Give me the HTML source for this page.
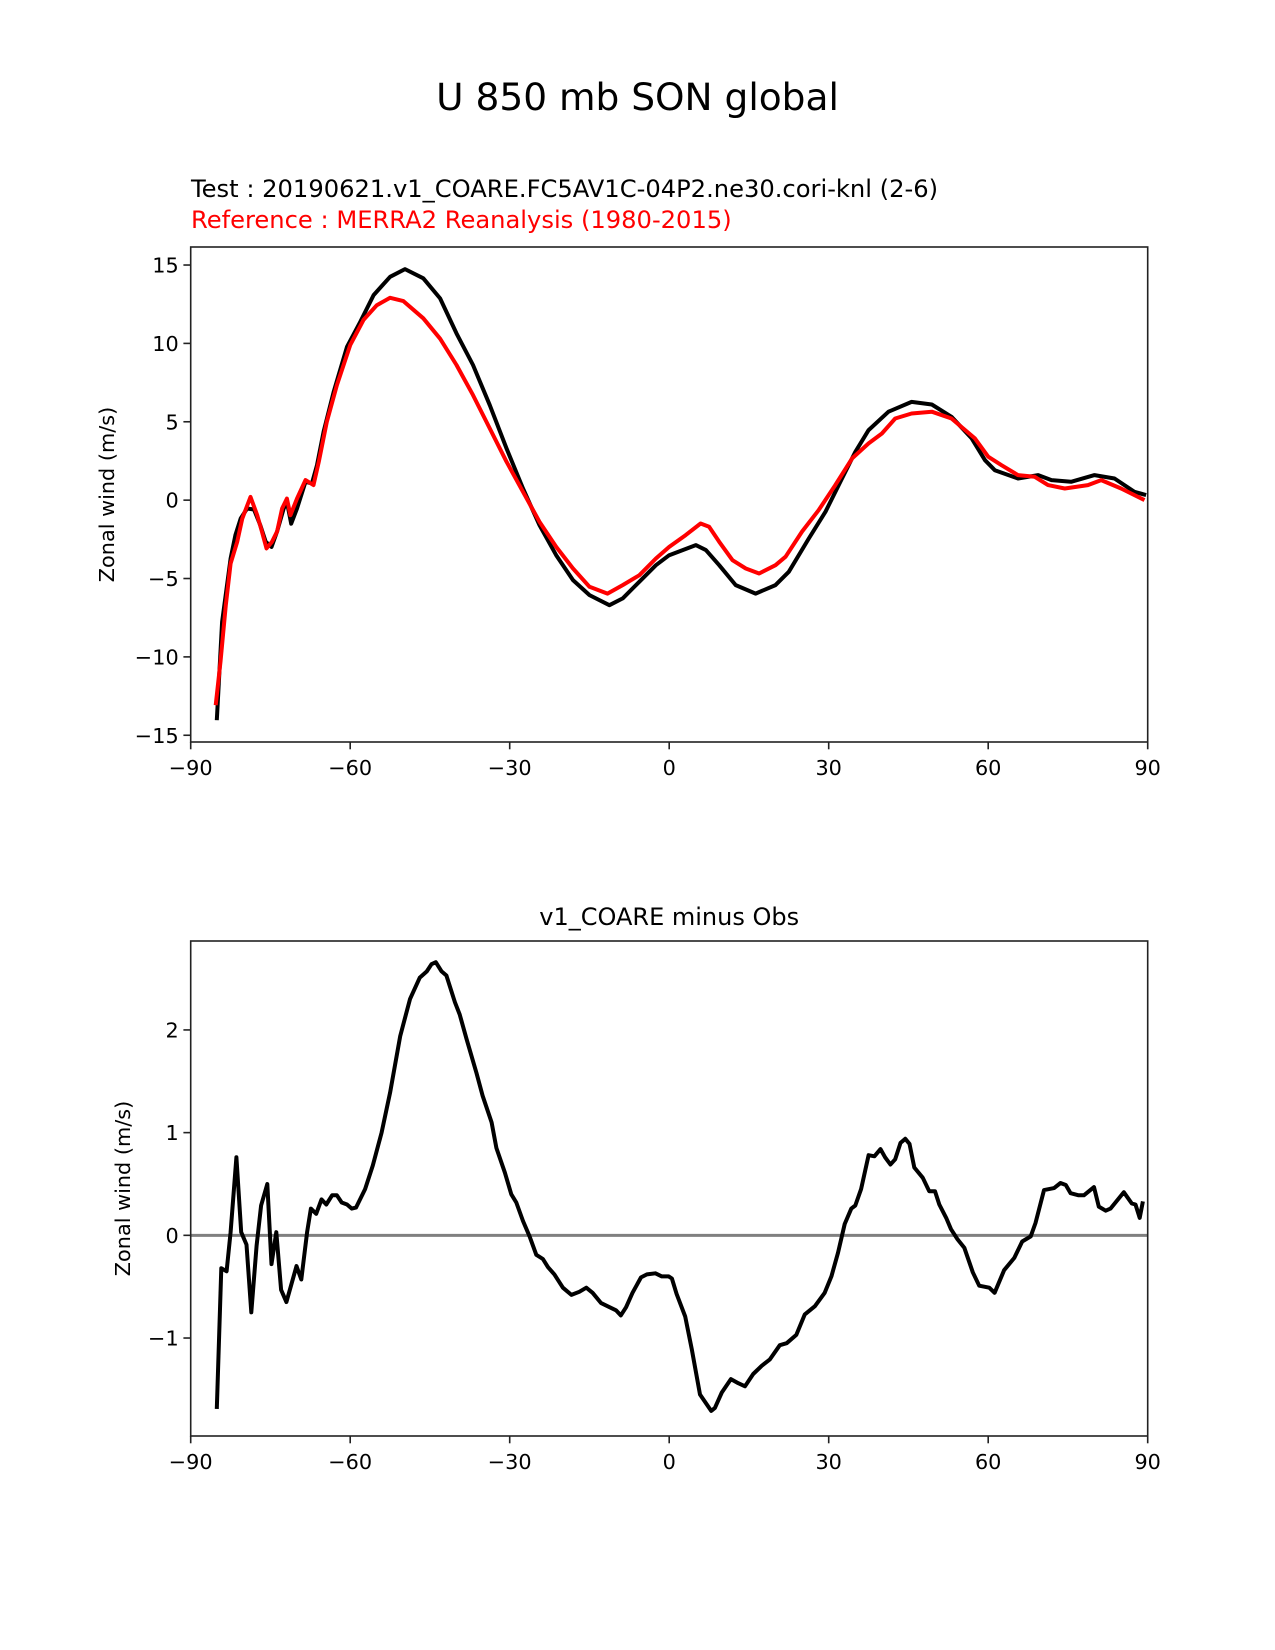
<!DOCTYPE html>
<html>
<head>
<meta charset="utf-8">
<style>
  html, body { margin: 0; padding: 0; background: #fff; }
  svg { display: block; font-family: "DejaVu Sans", "Liberation Sans", sans-serif; }
</style>
</head>
<body>
<svg id="fig" width="1275" height="1650" viewBox="0 0 1275 1650" xmlns="http://www.w3.org/2000/svg">
  <rect width="1275" height="1650" fill="#fff"/>
  <text x="637.5" y="110" font-size="37.5" text-anchor="middle" fill="#000">U 850 mb SON global</text>
  <text x="191" y="197" font-size="24.2" fill="#000">Test : 20190621.v1_COARE.FC5AV1C-04P2.ne30.cori-knl (2-6)</text>
  <text x="191" y="228" font-size="24.2" fill="#ff0000">Reference : MERRA2 Reanalysis (1980-2015)</text>
  <text x="669.2" y="925" font-size="24" text-anchor="middle" fill="#000">v1_COARE minus Obs</text>
  <defs>
    <clipPath id="clipTop"><rect x="190.7" y="247" width="957" height="495"/></clipPath>
    <clipPath id="clipBot"><rect x="190.7" y="941" width="957" height="495"/></clipPath>
  </defs>
  <g id="top"></g>
  <g id="bot"></g>
</svg>
<script>
// ---- data (latitude, value) ----
const testLat = [-85.1,-84.1,-82.5,-81.6,-80.6,-79.4,-78.1,-76.9,-75.9,-74.8,-73.75,-72.5,-71.9,-71.1,-70,-68.4,-67.2,-66.25,-65,-63.1,-60.6,-58.1,-55.6,-52.5,-49.7,-46.25,-43.1,-40,-36.9,-33.75,-30.6,-27.5,-24.4,-21.25,-18.1,-15,-11.25,-8.75,-5.6,-2.5,0,5,6.9,9.4,12.5,16.25,20,22.5,26.25,29.4,32.5,35,37.5,41.25,45.6,49.4,53.1,56.9,59.4,61.25,65.6,69.4,71.9,75.6,80,83.75,87.5,89.7];
const testVal = [-14.04,-7.77,-3.72,-2.23,-1.17,-0.53,-0.6,-1.6,-2.66,-2.98,-2.0,-0.53,-0.1,-1.5,-0.53,1.17,1.06,2.23,4.36,6.91,9.78,11.38,13.08,14.25,14.74,14.15,12.87,10.64,8.62,6.06,3.3,0.74,-1.6,-3.51,-5.1,-6.06,-6.7,-6.27,-5.2,-4.15,-3.51,-2.87,-3.19,-4.15,-5.42,-5.96,-5.42,-4.57,-2.45,-0.74,1.38,3.08,4.47,5.64,6.27,6.1,5.32,3.94,2.55,1.91,1.38,1.6,1.28,1.17,1.6,1.38,0.53,0.32];
const refLat = [-85.3,-84.4,-83.4,-82.5,-81.25,-80.3,-78.75,-77.5,-76.6,-75.75,-74.7,-73.75,-72.8,-71.9,-71.25,-70,-68.4,-66.9,-65.9,-64.4,-62.5,-60,-57.5,-55,-52.5,-50,-46.25,-43.1,-40,-36.9,-33.75,-30.6,-27.5,-24.4,-21.25,-18.1,-15,-11.6,-8.75,-5.6,-2.5,0,3.1,5.9,7.5,9.4,11.9,14.4,16.9,20,21.9,25,28.1,31.25,34.4,37.5,40,42.5,45.6,49.4,53.1,57.5,60,62.5,65.6,68.75,71.25,74.4,78.75,81.25,85,89.4];
const refVal = [-13.08,-10.3,-6.7,-4.04,-2.66,-1.17,0.21,-0.96,-2.0,-3.08,-2.66,-2.0,-0.53,0.1,-0.96,0.1,1.28,0.96,2.45,5.0,7.34,9.89,11.5,12.44,12.91,12.7,11.6,10.3,8.62,6.7,4.57,2.45,0.53,-1.38,-2.98,-4.36,-5.53,-5.96,-5.42,-4.79,-3.72,-2.98,-2.23,-1.49,-1.7,-2.66,-3.83,-4.36,-4.68,-4.15,-3.61,-2.0,-0.64,0.96,2.66,3.62,4.25,5.21,5.53,5.64,5.21,3.94,2.77,2.23,1.6,1.49,0.96,0.74,0.96,1.28,0.74,0.0];
const diffLat = [-85.1,-84.25,-83.25,-82.5,-81.4,-80.5,-79.5,-78.6,-77.6,-76.75,-75.6,-74.8,-73.9,-73,-72,-70.1,-69.2,-68.1,-67.4,-66.4,-65.4,-64.5,-63.4,-62.5,-61.6,-60.6,-59.7,-58.9,-57.2,-55.75,-54.1,-52.5,-50.6,-48.75,-46.9,-45.6,-44.7,-43.9,-42.8,-41.9,-40.3,-39.4,-38.1,-36.25,-35.1,-33.4,-32.5,-30.9,-29.7,-28.75,-27.5,-26.25,-25,-23.75,-22.8,-21.6,-20,-18.4,-16.9,-15.6,-14.4,-12.8,-11.6,-10,-9.1,-8.1,-6.9,-5.3,-4.2,-2.6,-1.4,-0.1,0.5,1.4,3,4.25,5.8,7.9,8.6,9.9,11.6,13,14.25,15.8,17.4,18.9,20.8,22.1,23.9,25.5,27.4,29.25,30.5,31.75,33,34.25,35,36.1,37.5,38.6,39.75,40.6,41.6,42.5,43.5,44.4,45.2,46.1,47.7,48.9,50,50.8,52.1,53,54.25,55.5,57.1,58.3,60.2,61.2,63,64.9,66.4,68,68.9,70.5,72.4,73.6,74.6,75.5,77,78,79.9,80.8,82.1,83,85.5,87,87.7,88.5,89.1];
const diffVal = [-1.69,-0.32,-0.35,0.03,0.76,0.03,-0.09,-0.75,-0.10,0.29,0.50,-0.28,0.03,-0.53,-0.65,-0.30,-0.43,0.03,0.26,0.21,0.35,0.30,0.39,0.39,0.32,0.30,0.26,0.27,0.45,0.68,1.0,1.39,1.94,2.30,2.51,2.57,2.64,2.66,2.57,2.53,2.27,2.15,1.91,1.58,1.36,1.10,0.85,0.61,0.40,0.32,0.14,-0.01,-0.19,-0.23,-0.31,-0.38,-0.51,-0.58,-0.55,-0.51,-0.56,-0.66,-0.69,-0.73,-0.78,-0.70,-0.56,-0.41,-0.38,-0.37,-0.40,-0.40,-0.42,-0.57,-0.79,-1.11,-1.55,-1.71,-1.68,-1.53,-1.40,-1.44,-1.47,-1.35,-1.27,-1.21,-1.07,-1.05,-0.97,-0.77,-0.69,-0.56,-0.40,-0.17,0.11,0.26,0.29,0.45,0.78,0.77,0.84,0.76,0.69,0.74,0.90,0.94,0.89,0.66,0.56,0.43,0.43,0.30,0.17,0.06,-0.04,-0.12,-0.36,-0.49,-0.51,-0.56,-0.34,-0.22,-0.06,-0.01,0.12,0.44,0.46,0.51,0.49,0.41,0.39,0.39,0.47,0.28,0.24,0.26,0.42,0.31,0.30,0.17,0.33];
const xTicks = [-90,-60,-30,0,30,60,90];
const topYTicks = [-15,-10,-5,0,5,10,15];
const botYTicks = [-1,0,1,2];

const NS = "http://www.w3.org/2000/svg";
const X0 = 190.7, X1 = 1147.7;
function xs(lat){ return X0 + (lat + 90) / 180 * (X1 - X0); }
function mk(tag, attrs, parent){ const e = document.createElementNS(NS, tag); for (const k in attrs) e.setAttribute(k, attrs[k]); parent.appendChild(e); return e; }
function fmt(v){ return v < 0 ? "\u2212" + Math.abs(v) : String(v); }

function panel(g, top, bottom, ymin, ymax, yticks, clipId, ylabelX){
  const ys = v => bottom - (v - ymin) / (ymax - ymin) * (bottom - top);
  xTicks.forEach(t => {
    const x = xs(t);
    const tk = mk("line", {x1:x, x2:x, y1:bottom, y2:bottom+7.3, stroke:"#222", "stroke-width":1.6}, g);
    
    
    const lb = mk("text", {x:x, y:bottom+33, "font-size":20.8, "text-anchor":"middle", fill:"#000"}, g);
    lb.textContent = fmt(t);
    
    
  });
  yticks.forEach(t => {
    const y = ys(t);
    const tk = mk("line", {x1:X0-7.3, x2:X0, y1:y, y2:y, stroke:"#222", "stroke-width":1.6}, g);
    
    
    const lb = mk("text", {x:X0-12, y:y+7.5, "font-size":20.8, "text-anchor":"end", fill:"#000"}, g);
    lb.textContent = fmt(t);
    
    
  });
  const cy = (top + bottom) / 2;
  const yl = mk("text", {x:ylabelX, y:cy, "font-size":20.8, "text-anchor":"middle", fill:"#000", transform:"rotate(-90 " + ylabelX + " " + cy + ")"}, g);
  yl.textContent = "Zonal wind (m/s)";
  
  
  const plot = mk("g", {"clip-path":"url(#" + clipId + ")"}, g);
  
  
  return {ys, plot, top, bottom};
}

function line(p, lats, vals, color, w){
  const pts = lats.map((l, i) => xs(l).toFixed(1) + "," + p.ys(vals[i]).toFixed(1)).join(" ");
  return mk("polyline", {points:pts, fill:"none", stroke:color, "stroke-width":w, "stroke-linejoin":"round"}, p.plot);
}
function frame(g, top, bottom){
  const f = mk("rect", {x:X0, y:top, width:X1-X0, height:bottom-top, fill:"none", stroke:"#222", "stroke-width":1.6}, g);
  
  
}

const gTop = document.getElementById("top");
const pT = panel(gTop, 247, 742, -15.43, 16.15, topYTicks, "clipTop", 114);
const lt = line(pT, testLat, testVal, "#000", 4);


const lr = line(pT, refLat, refVal, "#ff0000", 4);


frame(gTop, 247, 742);

const gBot = document.getElementById("bot");
const pB = panel(gBot, 941, 1436, -1.954, 2.866, botYTicks, "clipBot", 130);
const z = mk("line", {x1:X0, x2:X1, y1:pB.ys(0), y2:pB.ys(0), stroke:"#808080", "stroke-width":3}, pB.plot);


const ld = line(pB, diffLat, diffVal, "#000", 4);


frame(gBot, 941, 1436);
</script>
</body>
</html>
